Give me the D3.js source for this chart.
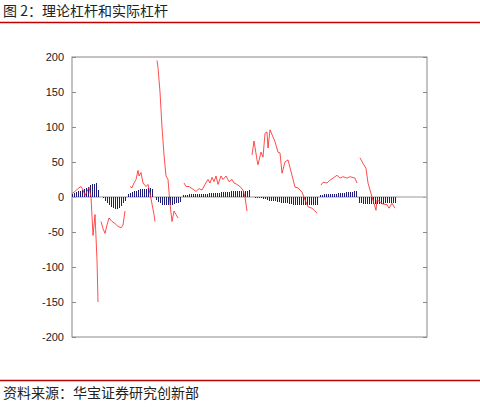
<!DOCTYPE html>
<html><head><meta charset="utf-8">
<script src="https://cdn.jsdelivr.net/npm/d3@7"></script>
<style>body{margin:0;background:#fff}</style>
</head><body>
<script>
// bar segments: start index, one value every 2 steps
const barSegments = [
  {start: 0, values: [5,6,7,8,9,10,11,13,15,17,18,19,20,10]},
  {start: 31, values: [-2,-5,-8,-11,-14,-16,-17,-17,-16,-13,-9,-5]},
  {start: 56, values: [5,6,7,8,9,10,11,11,12,12,13,13,12]},
  {start: 84, values: [-4,-7,-9,-11,-12,-12,-12,-12,-11,-10,-9,-8,-7]},
  {start: 111, values: [3,3,3,4,4,4,4,4,5,5,5,5,5,6,6,6,6,6,6,7,7,7,7,7,8,8,8,8,8,9,9,9,9,10]},
  {start: 181, values: [0,-1,-1,-2,-2,-3,-3,-4,-5,-5,-6,-6,-7,-7,-8,-8,-9,-9,-10,-10,-11,-11,-11,-12,-12,-12,-12,-12,-12,-12,-11,-11,-11]},
  {start: 248, values: [3,3,4,4,4,5,5,5,5,6,6,6,6,7,7,7,7,8,8]},
  {start: 287, values: [-8,-9,-10,-10,-10,-10,-10,-10,-10,-10,-10,-10,-10,-9,-9,-9,-9,-8,-8]}
];
// actual leverage: separate line pieces [index, value]
const lineSegments = [
  [[0,5],[3,8],[6,12],[9,15],[11,10],[13,2],[15,8],[17,14],[19,0],[21,-55],[23,-25],[25,-90],[26,-150]],
  [[29,-35],[31,-45],[33,-52],[35,-40],[37,-30],[40,-35],[43,-38],[46,-42],[49,-44],[51,-40],[53,-20]],
  [[58,15],[60,13],[62,20],[64,25],[66,38],[67,30],[69,35],[71,20],[74,15],[76,18],[78,5],[80,-10],[82,-25],[83,-35]],
  [[85,195],[86,185],[88,150],[90,100],[92,60],[94,30],[96,25],[98,-10],[100,-35],[102,-20],[104,-25],[106,-30]],
  [[112,20],[114,15],[117,15],[120,12],[124,8],[127,12],[130,10],[133,18],[136,25],[138,20],[140,28],[142,22],[144,30],[146,18],[149,30],[151,25],[154,30],[157,22],[160,25],[162,20],[165,18],[168,15],[171,10],[173,0],[175,-20]],
  [[180,60],[182,80],[185,53],[186,46],[189,64],[191,57],[193,91],[195,93],[196,70],[198,96],[203,79],[206,64],[208,63],[210,34],[213,50],[216,53],[220,31],[223,14],[226,13],[230,7],[233,-4],[236,-14],[240,-16],[245,-23]],
  [[249,17],[251,21],[255,20],[258,24],[265,31],[268,27],[271,29],[275,27],[278,29],[283,27],[285,20]],
  [[288,56],[291,48],[294,41],[296,20],[300,0],[304,-19],[305,-4],[308,-7],[311,-10],[315,-11],[317,-16],[320,-9],[323,-16]]
];
const yTicks = [-200,-150,-100,-50,0,50,100,150,200];
const title = "图 2：理论杠杆和实际杠杆";
const source = "资料来源：华宝证券研究创新部";

const W = 480, H = 407;
const svg = d3.select("body").append("svg").attr("width", W).attr("height", H);
const font = "'Noto Sans CJK SC', sans-serif";

svg.append("text").attr("x", 3).attr("y", 16).attr("font-family", font)
  .attr("font-size", 14).attr("fill", "#222").text(title);
svg.append("line").attr("x1", 0).attr("x2", W).attr("y1", 22.5).attr("y2", 22.5)
  .attr("stroke", "#c00000").attr("stroke-width", 1.5);
svg.append("line").attr("x1", 0).attr("x2", W).attr("y1", 380.5).attr("y2", 380.5)
  .attr("stroke", "#c00000").attr("stroke-width", 1.5);
svg.append("text").attr("x", 3).attr("y", 398).attr("font-family", font)
  .attr("font-size", 14).attr("fill", "#222").text(source);

const L = 72, R = 427, T = 57, B = 337;
const x = d3.scaleLinear().domain([0, 355]).range([L, R]);
const y = d3.scaleLinear().domain([-200, 200]).range([B, T]);

const g = svg.append("g");
g.append("rect").attr("x", L).attr("y", T).attr("width", R - L).attr("height", B - T)
  .attr("fill", "none").attr("stroke", "#888").attr("stroke-width", 1);
g.append("g").attr("transform", `translate(${L},0)`)
  .call(d3.axisLeft(y).tickValues(yTicks).tickSize(-4).tickPadding(8).tickFormat(d => String(d)))
  .call(a => a.select(".domain").remove())
  .call(a => a.selectAll("line").attr("stroke", "#888"))
  .call(a => a.selectAll("text").attr("font-family", "Arial, 'Liberation Sans'").attr("font-size", 11).attr("fill", "#222"));
g.append("g").attr("transform", `translate(${R},0)`)
  .call(d3.axisRight(y).tickValues(yTicks).tickSize(-4).tickFormat(""))
  .call(a => a.select(".domain").remove())
  .call(a => a.selectAll("line").attr("stroke", "#888"));

g.append("line").attr("x1", L).attr("x2", R).attr("y1", y(0)).attr("y2", y(0))
  .attr("stroke", "#bbb").attr("stroke-width", 1.5);

const bars = barSegments.flatMap(s => s.values.map((v, i) => ({i: s.start + 2 * i, v})));
g.selectAll("rect.bar").data(bars).enter().append("rect").attr("class", "bar")
  .attr("x", d => Math.round(x(d.i))).attr("width", 1)
  .attr("y", d => y(Math.max(0, d.v))).attr("height", d => Math.abs(y(d.v) - y(0)))
  .attr("fill", "#1c1c78").attr("shape-rendering", "crispEdges");

const line = d3.line().x(d => x(d[0])).y(d => y(d[1]));
g.selectAll("path.act").data(lineSegments).enter().append("path").attr("class", "act")
  .attr("d", line).attr("fill", "none").attr("stroke", "#ff2020").attr("stroke-width", 0.8);
</script>
</body></html>
